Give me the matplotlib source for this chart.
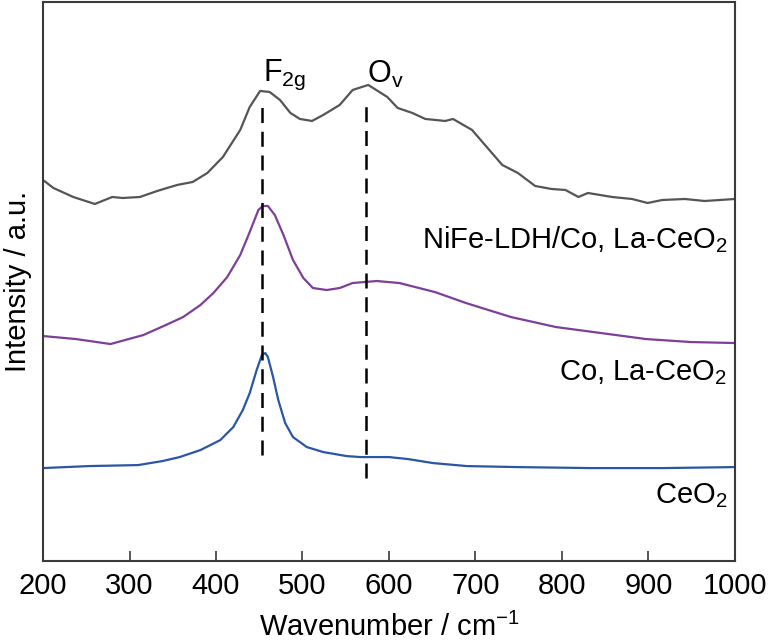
import matplotlib
matplotlib.use("Agg")
import matplotlib.pyplot as plt

plt.rcParams['font.family'] = ['Liberation Sans', 'DejaVu Sans']
plt.rcParams['mathtext.fontset'] = 'custom'
plt.rcParams['mathtext.rm'] = 'Liberation Sans'
plt.rcParams['mathtext.it'] = 'Liberation Sans:italic'

# Raman spectra (a.u., offset already included)
wn_nife = [200, 212, 235, 260, 280, 292, 312, 332, 355, 373, 390, 408, 428, 439, 451,
           462, 474, 486, 497, 511, 524, 543, 558, 576, 598, 610, 627, 642, 665, 674,
           696, 711, 731, 749, 769, 788, 804, 819, 830, 858, 881, 899, 916, 942, 965, 1000]
int_nife = [381, 373, 364, 357, 364, 363, 364, 370, 376, 379, 388, 404, 431, 454, 470,
            469, 461, 448, 442, 440, 446, 456, 471, 476, 464, 453, 448, 442, 440, 442,
            431, 416, 396, 388, 375, 372, 371, 364, 368, 364, 362, 358, 361, 362, 360, 362]

wn_co = [200, 238, 278, 316, 342, 362, 382, 397, 413, 428, 439, 449, 454, 460, 468,
         478, 489, 501, 512, 528, 543, 558, 586, 612, 653, 689, 741, 793, 845, 897, 949, 1000]
int_co = [225, 222, 217, 226, 236, 244, 256, 268, 284, 306, 329, 351, 355, 355, 346,
          326, 301, 283, 273, 271, 273, 278, 280, 278, 269, 258, 244, 234, 228, 222, 219, 218]

wn_ceo2 = [200, 253, 310, 338, 358, 382, 405, 420, 431, 439, 447, 453, 457, 460, 466,
           472, 480, 489, 505, 524, 551, 567, 600, 622, 651, 690, 748, 832, 918, 1000]
int_ceo2 = [93, 95, 96, 100, 104, 111, 121, 134, 151, 168, 191, 206, 208, 204, 184,
            161, 138, 124, 114, 109, 105, 104, 104, 102, 98, 95, 94, 93, 93, 94]

# peak markers: position, line bottom, line top
peak_pos = [453, 573]
peak_low = [106, 83]
peak_high = [459, 459]
peak_names = ['F$_{\\mathrm{2g}}$', 'O$_{\\mathrm{v}}$']

labels = ['NiFe-LDH/Co, La-CeO$_2$', 'Co, La-CeO$_2$', 'CeO$_2$']
label_y = [313, 181, 58]

fig = plt.figure(figsize=(7.68, 6.42), dpi=100)
ax = fig.add_axes([0.056, 0.126, 0.901, 0.871])

ax.plot(wn_nife, int_nife, color='#555555', lw=1.6)
ax.plot(wn_co, int_co, color='#7d3f98', lw=1.6)
ax.plot(wn_ceo2, int_ceo2, color='#2b55a5', lw=1.6)

for x, lo, hi, name in zip(peak_pos, peak_low, peak_high, peak_names):
    ax.plot([x, x], [lo, hi], color='black', lw=1.8, ls=(0, (6, 3.5)))
    ax.text(x + 1, 486, name, fontsize=22, ha='left', va='center')

for lab, y in zip(labels, label_y):
    ax.text(991, y, lab, fontsize=21, ha='right', va='baseline')

ax.set_xlim(200, 1000)
ax.set_ylim(0, 559)
ax.set_xticks(range(200, 1001, 100))
ax.set_yticks([])
ax.tick_params(axis='x', direction='in', length=7, width=1.2, labelsize=21, pad=8,
               colors='#3a3a3a', labelcolor='black')
for sp in ax.spines.values():
    sp.set_color('#3a3a3a')
    sp.set_linewidth(1.5)

ax.set_xlabel('Wavenumber / cm$^{-1}$', fontsize=21, labelpad=9)
ax.set_ylabel('Intensity / a.u.', fontsize=21, labelpad=8)

fig.savefig('out.png', dpi=100)
